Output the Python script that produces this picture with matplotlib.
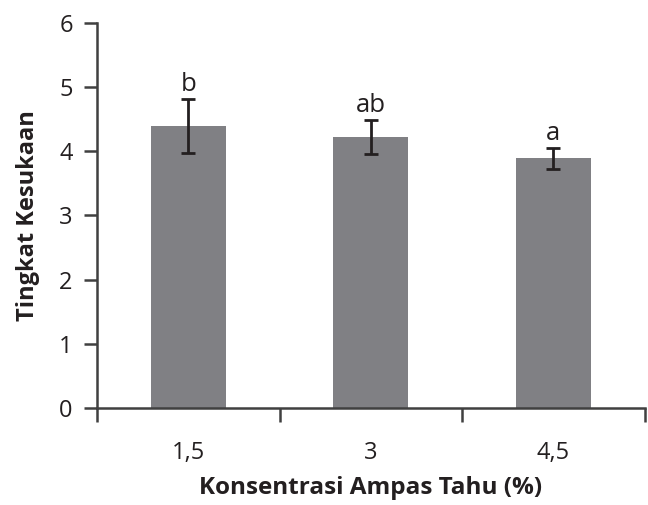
import matplotlib.pyplot as plt
import numpy as np

categories = ["1,5", "3", "4,5"]
means = [4.39, 4.22, 3.89]
errors = [0.42, 0.27, 0.16]
letters = ["b", "ab", "a"]

plt.rcParams['font.family'] = ['Open Sans', 'DejaVu Sans']

fig = plt.figure(figsize=(6.48, 5.05), dpi=100)
ax = fig.add_axes([0.1497, 0.192, 0.8453, 0.763])

x = np.arange(len(categories))
ax.bar(x, means, width=0.41, color="#808084", zorder=2)
ax.errorbar(x, means, yerr=errors, fmt="none", ecolor="#231f20",
            elinewidth=2, capsize=5, capthick=2, zorder=3)
for xi, m, e, lab in zip(x, means, errors, letters):
    ax.text(xi, m + e + 0.03, lab, ha="center", va="bottom", fontsize=18.5,
            color="#231f20")

ax.set_xlim(-0.5, 2.5)
ax.set_ylim(0, 6)
ax.set_yticks(range(7))
ax.set_xticks(x)
ax.set_xticklabels(categories)
ax.set_xticks([-0.5, 0.5, 1.5, 2.5], minor=True)
ax.tick_params(axis="x", which="major", length=0, pad=24, labelsize=17, colors="#231f20")
ax.tick_params(axis="x", which="minor", length=10, width=1.8, color="#404040", direction="out")
ax.tick_params(axis="y", length=9.5, width=1.8, color="#404040", labelsize=17,
               pad=8, labelcolor="#231f20")

for s in ["top", "right"]:
    ax.spines[s].set_visible(False)
for s in ["left", "bottom"]:
    ax.spines[s].set_color("#404040")
    ax.spines[s].set_linewidth(1.8)

ax.set_xlabel("Konsentrasi Ampas Tahu (%)", fontsize=17.5, fontweight="bold",
              labelpad=8, color="#231f20")
ax.set_ylabel("Tingkat Kesukaan", fontsize=17, fontweight="bold",
              labelpad=14, color="#231f20")

fig.savefig("out.png", dpi=100)
